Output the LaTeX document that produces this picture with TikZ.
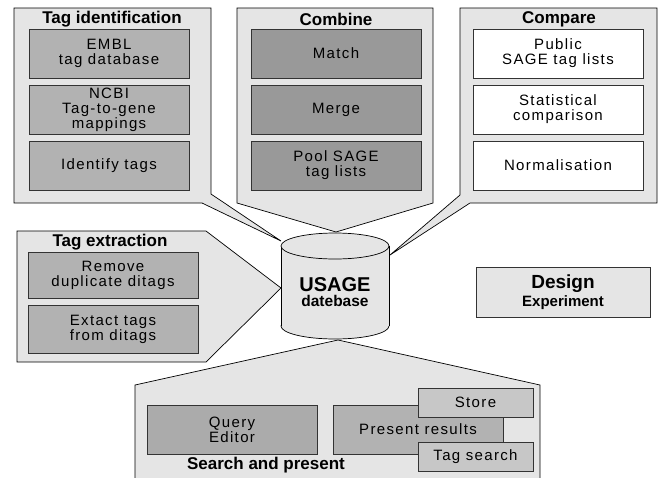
\documentclass[tikz,border=0pt]{standalone}
\usepackage{fontspec}
\setmainfont{Liberation Sans}
\newfontfamily\boxfont{Liberation Sans}[LetterSpace=9]

\begin{document}
\begin{tikzpicture}[x=1pt,y=-1pt,
    panel/.style={draw=black, fill=black!10, line width=0.7pt},
    title/.style={font=\fontsize{17}{17}\selectfont\bfseries},
    box/.style={draw=black!80, line width=0.7pt, minimum width=170pt,
      minimum height=49pt, inner sep=0pt, align=center,
      font=\boxfont\fontsize{15}{15}\selectfont},
    midbox/.style={box, fill=black!30},
    darkbox/.style={box, fill=black!40},
    whitebox/.style={box, fill=white},
    smallbox/.style={box, fill=black!22, minimum width=115pt, minimum height=29pt}]
  \useasboundingbox (0,0) rectangle (659,477);

  % callout panels
  \draw[panel] (14,8) -- (211,8) -- (211,194) -- (281,241) -- (202,203)
    -- (14,203) -- cycle;
  \draw[panel] (237,8) -- (433,8) -- (433,203) -- (336,232) -- (237,203) -- cycle;
  \draw[panel] (460,8) -- (657,8) -- (657,203) -- (470,203) -- (390,255)
    -- (460,195) -- cycle;
  \draw[panel] (17,231) -- (206,231) -- (281,288) -- (206,362) -- (17,362) -- cycle;
  \draw[panel] (135,490) -- (135,385) -- (338,340) -- (540,385) -- (540,490);

  % database
  \filldraw[panel] (335,326) ellipse[x radius=54, y radius=13];
  \fill[black!10] (281,246) rectangle (389,326);
  \draw[line width=0.7pt] (281,246) -- (281,326) (389,246) -- (389,326);
  \filldraw[panel] (335,246) ellipse[x radius=54, y radius=13];
  \node[align=center, font=\bfseries] (db) at (335,292)
    {\fontsize{20}{20}\selectfont USAGE\\[3pt]\fontsize{15.5}{16}\selectfont datebase};

  % Tag identification
  \node[title] (tit) at (112,19) {Tag identification};
  \node[midbox, minimum width=160pt] (embl) at (109,53.5) {EMBL\\tag database};
  \node[midbox, minimum width=160pt] (ncbi) at (109,109.5) {NCBI\\Tag-to-gene\\mappings};
  \node[midbox, minimum width=160pt] (ident) at (109,165.5) {Identify tags};

  % Combine
  \node[title] (cot) at (336,19) {Combine};
  \node[darkbox] (match) at (336,53.5) {Match};
  \node[darkbox] (merge) at (336,109.5) {Merge};
  \node[darkbox] (pool) at (336,165.5) {Pool SAGE\\tag lists};

  % Compare
  \node[title] (cpt) at (559,19) {Compare};
  \node[whitebox] (public) at (558,53.5) {Public\\SAGE tag lists};
  \node[whitebox] (stat) at (558,109.5) {Statistical\\comparison};
  \node[whitebox] (norm) at (558,165.5) {Normalisation};

  % Tag extraction
  \node[title] (tet) at (110,242) {Tag extraction};
  \node[midbox, minimum height=46pt] (dup) at (113,275) {Remove\\duplicate ditags};
  \node[midbox, minimum height=48pt] (extact) at (113,329) {Extact tags\\from ditags};

  % Search and present
  \node[midbox, fill=black!33] (query) at (232,429.5) {Query\\Editor};
  \node[midbox] (present) at (418,429.5) {Present results};
  \node[smallbox] (store) at (475.5,402.5) {Store};
  \node[smallbox] (tagsearch) at (475.5,457) {Tag search};
  \node[title] (spt) at (266,465) {Search and present};

  % Design
  \node[draw=black!80, line width=0.7pt, fill=black!10, minimum width=174pt,
    minimum height=50pt, align=center, font=\bfseries] (design) at (563,292)
    {\fontsize{19}{19}\selectfont Design\\[2pt]\fontsize{15}{16}\selectfont Experiment};
\end{tikzpicture}
\end{document}
